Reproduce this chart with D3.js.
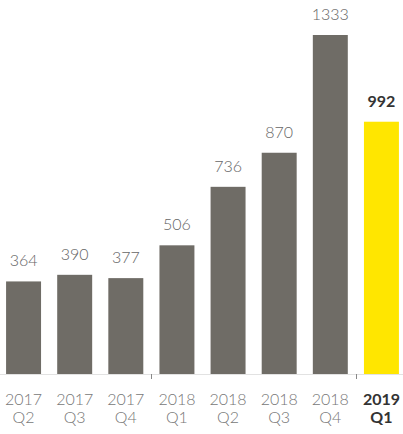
<!DOCTYPE html>
<html>
<head>
<meta charset="utf-8">
<script src="https://cdn.jsdelivr.net/npm/d3@7"></script>
<style>
  body { margin: 0; background: #fff; }
  svg { display: block; font-family: Lato, "Open Sans", sans-serif; }
</style>
</head>
<body>
<div id="chart"></div>
<script>
// data
var years = ["2017", "2017", "2017", "2018", "2018", "2018", "2018", "2019"];
var quarters = ["Q2", "Q3", "Q4", "Q1", "Q2", "Q3", "Q4", "Q1"];
var values = [364, 390, 377, 506, 736, 870, 1333, 992];
var highlight = [false, false, false, false, false, false, false, true];

var width = 403, height = 434;
var baseY = 374;

var svg = d3.select("#chart").append("svg")
    .attr("width", width)
    .attr("height", height);

var x = d3.scaleBand()
    .domain(d3.range(values.length))
    .range([-2, 407])
    .paddingInner(0.316)
    .paddingOuter(0.158);

var y = d3.scaleLinear()
    .domain([0, d3.max(values)])
    .range([baseY, 35]);

// baseline
svg.append("line")
    .attr("x1", 0).attr("x2", width)
    .attr("y1", baseY + 0.5).attr("y2", baseY + 0.5)
    .style("stroke", "#e2e2e2")
    .style("stroke-width", 1);

// year separator ticks
for (var i = 1; i < years.length; i++) {
    if (years[i] !== years[i - 1]) {
        var tx = Math.round((x(i - 1) + x.bandwidth() + x(i)) / 2) + 0.5;
        svg.append("line")
            .attr("x1", tx).attr("x2", tx)
            .attr("y1", baseY).attr("y2", baseY + 5)
            .style("stroke", "#888")
            .style("stroke-width", 1);
    }
}

var bars = svg.selectAll("g.bar")
    .data(values)
    .enter()
    .append("g")
    .attr("class", "bar");

bars.append("rect")
    .attr("x", function(d, i) { return x(i); })
    .attr("y", function(d) { return y(d); })
    .attr("width", x.bandwidth())
    .attr("height", function(d) { return baseY - y(d); })
    .attr("fill", function(d, i) { return highlight[i] ? "#ffe600" : "#6f6c66"; });

bars.append("text")
    .attr("x", function(d, i) { return x(i) + x.bandwidth() / 2; })
    .attr("y", function(d) { return y(d) - 15; })
    .attr("text-anchor", "middle")
    .style("font-size", "16px")
    .style("font-weight", function(d, i) { return highlight[i] ? 700 : 300; })
    .style("fill", function(d, i) { return highlight[i] ? "#333" : "#666"; })
    .text(function(d) { return d; });

// category labels, year and quarter as two separate lines
var labelX = function(d, i) { return x(i) + x.bandwidth() / 2; };
var labelWeight = function(d, i) { return highlight[i] ? 700 : 300; };
var labelFill = function(d, i) { return highlight[i] ? "#333" : "#777"; };

svg.selectAll("text.year")
    .data(values)
    .enter()
    .append("text")
    .attr("class", "year")
    .attr("x", labelX)
    .attr("y", 405)
    .attr("text-anchor", "middle")
    .style("font-size", "16px")
    .style("font-weight", labelWeight)
    .style("fill", labelFill)
    .text(function(d, i) { return years[i]; });

svg.selectAll("text.quarter")
    .data(values)
    .enter()
    .append("text")
    .attr("class", "quarter")
    .attr("x", labelX)
    .attr("y", 423)
    .attr("text-anchor", "middle")
    .style("font-size", "16px")
    .style("font-weight", labelWeight)
    .style("fill", labelFill)
    .text(function(d, i) { return quarters[i]; });
</script>
</body>
</html>
